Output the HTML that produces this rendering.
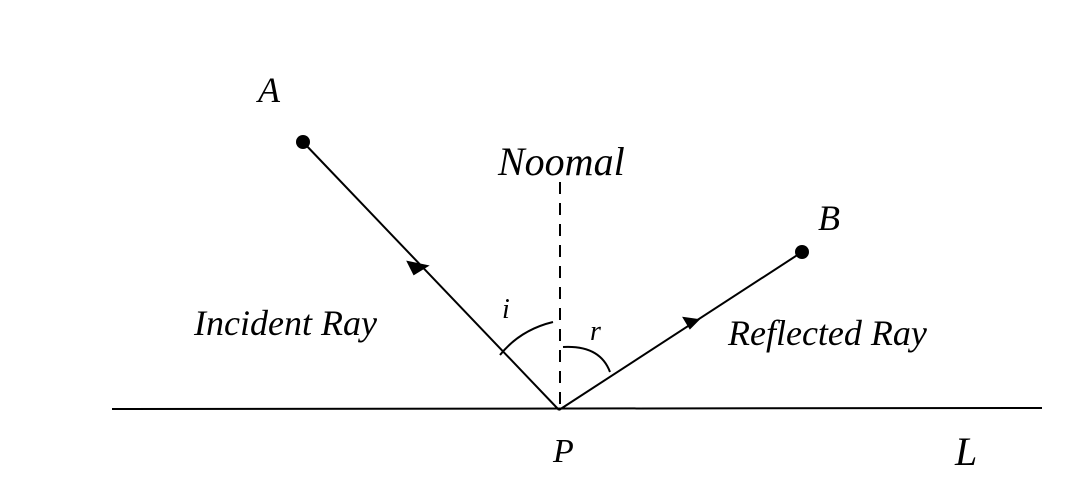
<!DOCTYPE html>
<html><head><meta charset="utf-8"><style>
html,body{margin:0;padding:0;background:#fff;}
svg{display:block;}
text{font-family:"Liberation Serif",serif;font-style:italic;fill:#000;}
</style></head><body>
<svg width="1082" height="497" viewBox="0 0 1082 497" xmlns="http://www.w3.org/2000/svg">
<rect width="1082" height="497" fill="#fff"/>
<line x1="112" y1="409" x2="1042" y2="408" stroke="#000" stroke-width="2"/>
<line x1="303" y1="142" x2="559" y2="410" stroke="#000" stroke-width="2"/>
<line x1="559" y1="410" x2="802" y2="252" stroke="#000" stroke-width="2"/>
<line x1="560" y1="182" x2="560" y2="410" stroke="#000" stroke-width="2" stroke-dasharray="12,9"/>
<circle cx="303" cy="142" r="7" fill="#000"/>
<circle cx="802" cy="252" r="7" fill="#000"/>
<polygon points="408,262 427,266 414,274" fill="#000" stroke="#000" stroke-width="2"/>
<polygon points="684,318 698,320 690,328" fill="#000" stroke="#000" stroke-width="2"/>
<path d="M500,355 Q520,330 553,322" fill="none" stroke="#000" stroke-width="2"/>
<path d="M563,347 Q600,345 610,372" fill="none" stroke="#000" stroke-width="2"/>
<text x="258" y="102" font-size="36">A</text>
<text x="498" y="175" font-size="40">Noomal</text>
<text x="818" y="230" font-size="36">B</text>
<text x="194" y="335" font-size="36">Incident Ray</text>
<text x="728" y="345" font-size="36">Reflected Ray</text>
<text x="502" y="318" font-size="28">i</text>
<text x="590" y="340" font-size="28">r</text>
<text x="553" y="462" font-size="34">P</text>
<text x="955" y="465" font-size="40">L</text>
</svg>
</body></html>
